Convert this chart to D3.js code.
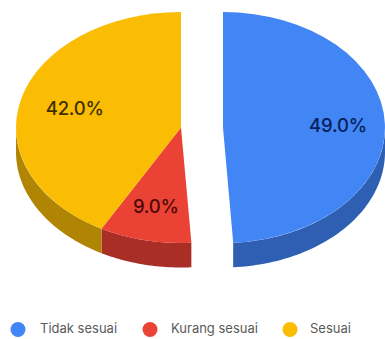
<!DOCTYPE html>
<html>
<head>
<meta charset="utf-8">
<script src="https://cdn.jsdelivr.net/npm/d3@7"></script>
<style>
  html, body { margin: 0; padding: 0; background: #fff; }
  svg { display: block; }
  text { font-family: Inter, "Open Sans", sans-serif; }
</style>
</head>
<body>
<svg id="chart" width="385" height="339"></svg>
<script>
// Survey answers, in percent
const categories = ["Tidak sesuai", "Kurang sesuai", "Sesuai"];
const shares = [49, 9, 42];
const topColors = ["#4285F4", "#EA4335", "#FBBC04"];
const sideColors = ["#2F5FB3", "#A92F26", "#B08503"];
const labelColors = ["#06205A", "#4E0805", "#3E2E00"];

const ry = 115.5, depth = 24.5, cy = 127.5;
const centers = [223, 181, 181];
const radii = [162, 165, 165];
const labelRadii = [0.71, 0.7, 0.665];

const svg = d3.select("#chart");
const arcs = d3.pie().sort(null).value(d => d)(shares);

// Tilted disc: a unit-radius arc flattened through scale transforms.
const arc = d3.arc().innerRadius(0).outerRadius(1);

// Front wall of one slice, sampled along the part of its rim facing the viewer.
function wallPoints(a, i) {
  const from = Math.max(a.startAngle, Math.PI / 2);
  const to = Math.min(a.endAngle, Math.PI * 1.5);
  if (from >= to) return null;
  const angles = d3.range(0, 61).map(k => from + (to - from) * k / 60);
  const px = t => centers[i] + radii[i] * Math.sin(t);
  const py = t => cy - ry * Math.cos(t);
  return angles.map(t => [px(t), py(t)])
    .concat(angles.slice().reverse().map(t => [px(t), py(t) + depth]));
}

const line = d3.line();
arcs.forEach((a, i) => {
  const pts = wallPoints(a, i);
  if (pts) svg.append("path").attr("d", line(pts) + "Z").attr("fill", sideColors[i]);
});

arcs.forEach((a, i) => {
  svg.append("path")
    .attr("d", arc(a))
    .attr("transform", `translate(${centers[i]},${cy}) scale(${radii[i]},${ry})`)
    .attr("fill", topColors[i]);
});

// Percentage labels placed along each slice's mid angle.
arcs.forEach((a, i) => {
  const mid = (a.startAngle + a.endAngle) / 2;
  svg.append("text")
    .attr("x", centers[i] + radii[i] * labelRadii[i] * Math.sin(mid))
    .attr("y", cy - ry * labelRadii[i] * Math.cos(mid))
    .attr("text-anchor", "middle")
    .attr("dominant-baseline", "central")
    .attr("font-size", 18.5)
    .attr("font-weight", 500)
    .attr("letter-spacing", -0.2)
    .attr("fill", labelColors[i])
    .text(d3.format(".1f")(shares[i]) + "%");
});

// Legend row
const legendDotX = [18, 150, 290];
const legendTextX = [40, 171, 310];
categories.forEach((c, i) => {
  svg.append("circle").attr("cx", legendDotX[i]).attr("cy", 329.5).attr("r", 7.5).attr("fill", topColors[i]);
  svg.append("text")
    .attr("x", legendTextX[i])
    .attr("y", 328)
    .attr("dominant-baseline", "central")
    .attr("font-size", 13)
    .attr("fill", "#5a5a5a")
    .text(c);
});
</script>
</body>
</html>
